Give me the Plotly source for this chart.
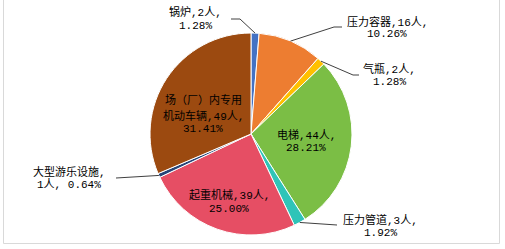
import math
import plotly.graph_objects as go

# Accident counts by equipment type (clockwise from 12 o'clock)
categories = ["锅炉", "压力容器", "气瓶", "电梯", "压力管道", "起重机械", "大型游乐设施", "场（厂）内专用机动车辆"]
counts = [2, 16, 2, 44, 3, 39, 1, 49]
colors = ["#4472C4", "#ED7D31", "#FFC000", "#7BBE45", "#2FC4B8", "#E64E64", "#264478", "#9C4A10"]

W, H = 505, 249
CX, CY, R = 251, 134, 101  # pie centre / radius in pixels

total = sum(counts)
percents = [c / total * 100 for c in counts]

# label line templates, label x centre and per-line y centres (pixels),
# plus leader-line bend points
label_style = {
    "锅炉": {"lines": ["{name},{n}人,", "{p}"], "x": 195, "ys": [13, 26],
             "leader": [(240, 19), (231, 19)]},
    "压力容器": {"lines": ["{name},{n}人,", "{p}"], "x": 387, "ys": [22, 34],
               "leader": [(334, 27), (342, 27)]},
    "气瓶": {"lines": ["{name},{n}人,", "{p}"], "x": 389, "ys": [69, 82],
             "leader": [(353, 75), (359, 75)]},
    "电梯": {"lines": ["{name},{n}人,", "{p}"], "x": 306, "ys": [135, 148], "leader": None},
    "压力管道": {"lines": ["{name},{n}人,", "{p}"], "x": 380, "ys": [220, 233],
               "leader": [(337, 225)]},
    "起重机械": {"lines": ["{name},{n}人,", "{p}"], "x": 229, "ys": [195, 209], "leader": None},
    "大型游乐设施": {"lines": ["{name},", "{n}人, {p}"], "x": 69, "ys": [172, 184],
                 "leader": [(116, 178)]},
    "场（厂）内专用机动车辆": {"lines": ["场（厂）内专用", "机动车辆,{n}人,", "{p}"], "x": 203,
                      "ys": [100, 116, 129], "leader": None},
}

LABEL_FONT = dict(family="Liberation Mono, Noto Sans CJK SC", size=11, color="#000000")


def px(x):
    return x / W


def py(y):
    return 1 - y / H


fig = go.Figure(
    go.Pie(
        labels=categories,
        values=counts,
        sort=False,
        direction="clockwise",
        rotation=0,
        marker=dict(colors=colors, line=dict(color="white", width=1)),
        textinfo="none",
        hoverinfo="label+value+percent",
        showlegend=False,
        domain=dict(x=[px(CX - R), px(CX + R)], y=[py(CY + R), py(CY - R)]),
    )
)

annotations = []
shapes = []
cum = 0.0
for name, n, p in zip(categories, counts, percents):
    mid = (cum + n / 2) / total * 2 * math.pi
    cum += n
    st = label_style[name]
    for tmpl, ly in zip(st["lines"], st["ys"]):
        annotations.append(dict(
            x=px(st["x"]), y=py(ly), xref="paper", yref="paper",
            text=tmpl.format(name=name, n=n, p=f"{p:.2f}%"),
            showarrow=False, xanchor="center", yanchor="middle",
            font=LABEL_FONT,
        ))
    if st["leader"]:
        pts = [(CX + R * math.sin(mid), CY - R * math.cos(mid))] + st["leader"]
        for (x0, y0), (x1, y1) in zip(pts[:-1], pts[1:]):
            shapes.append(dict(
                type="line", xref="paper", yref="paper",
                x0=px(x0), y0=py(y0), x1=px(x1), y1=py(y1),
                line=dict(color="#404040", width=1),
            ))

# light chart-area frame
shapes.append(dict(
    type="rect", xref="paper", yref="paper",
    x0=px(3.5), x1=px(499.5), y0=py(243.5), y1=py(-3),
    line=dict(color="#D9D9D9", width=1), fillcolor="rgba(0,0,0,0)", layer="below",
))

fig.update_layout(
    width=W, height=H,
    margin=dict(l=0, r=0, t=0, b=0),
    paper_bgcolor="white",
    plot_bgcolor="white",
    annotations=annotations,
    shapes=shapes,
)

fig.write_html("out.html")
